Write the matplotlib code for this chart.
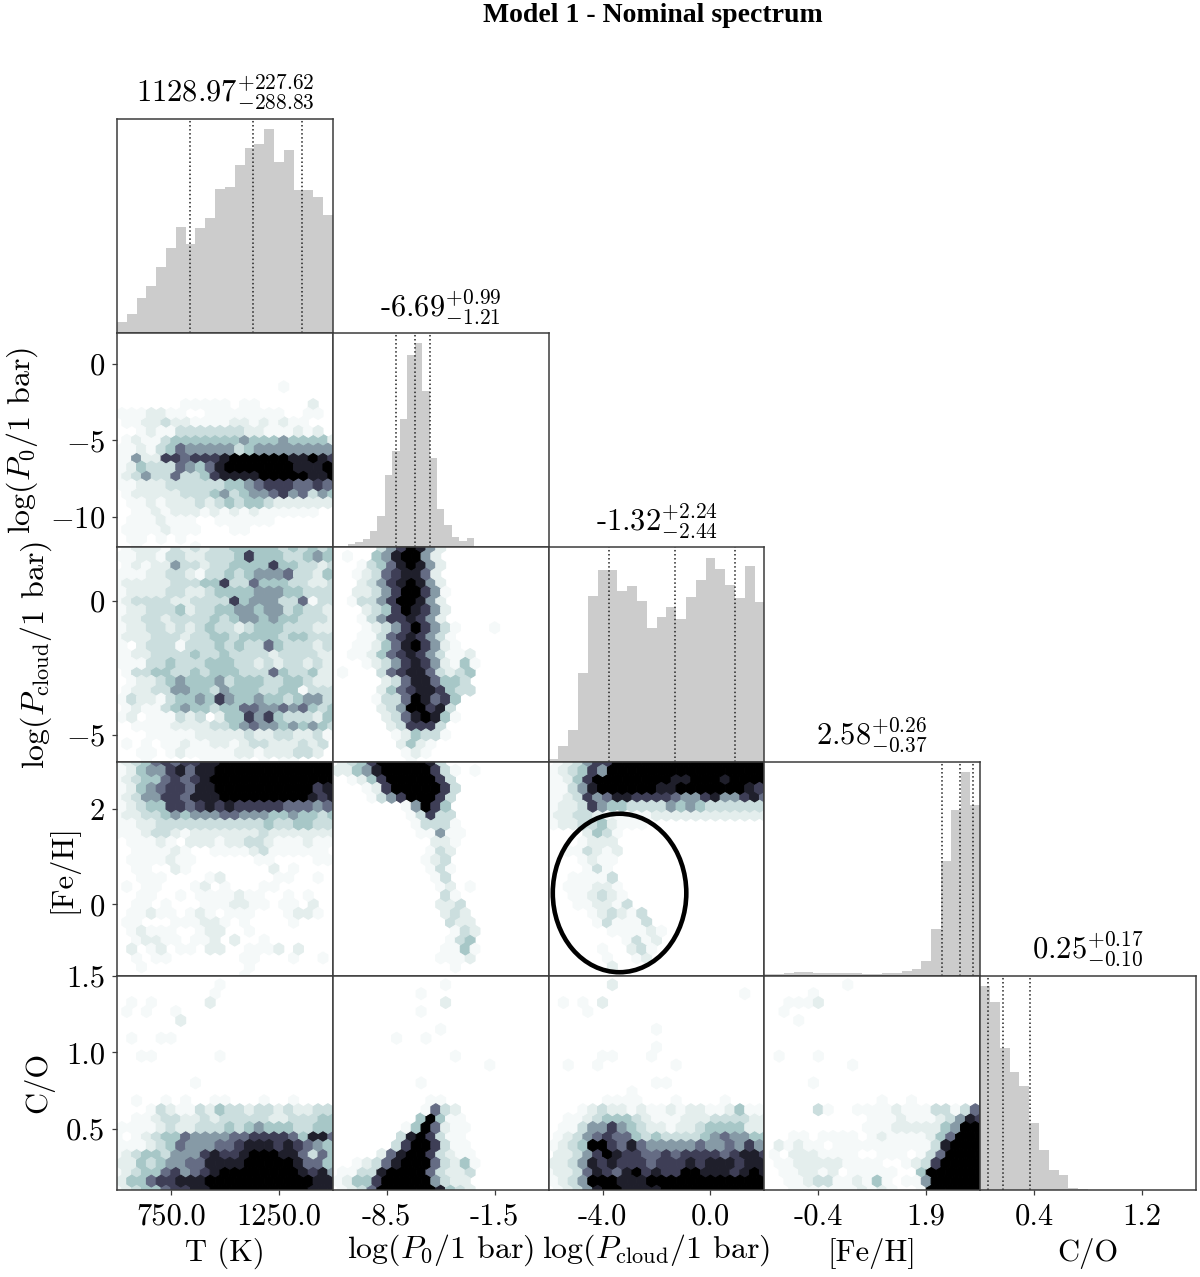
import numpy as np
import matplotlib
matplotlib.use("Agg")
import matplotlib.pyplot as plt
from matplotlib.patches import Ellipse

plt.rcParams['mathtext.fontset'] = 'cm'
plt.rcParams['font.family'] = ['cmr10', 'DejaVu Sans']
plt.rcParams['axes.unicode_minus'] = False
plt.rcParams['axes.formatter.use_mathtext'] = True

# axis ranges, one per parameter
t_range = (500, 1500)
p0_range = (-12, 2)
pcloud_range = (-6, 2)
feh_range = (-1.5, 3)
co_range = (0.1, 1.5)
ranges = [t_range, p0_range, pcloud_range, feh_range, co_range]

# histogram heights
hist_t = [33, 58, 106, 142, 197, 253, 316, 266, 315, 343, 430, 437, 500, 553, 564, 608, 510, 545, 427, 426, 405, 351]
hist_p0 = [0, 1, 10, 16, 25, 48, 94, 216, 289, 384, 576, 610, 467, 268, 114, 66, 30, 18, 27, 0, 0, 0, 0, 0, 0, 0, 0, 0, 0]
hist_pcloud = [8, 48, 95, 264, 495, 574, 574, 510, 524, 479, 399, 432, 462, 425, 493, 542, 610, 577, 528, 490, 586, 476]
hist_feh = [4, 5, 7, 12, 10, 8, 9, 9, 8, 7, 6, 6, 8, 9, 14, 20, 44, 140, 342, 492, 607, 509]
hist_co = [612, 563, 426, 355, 312, 202, 121, 59, 44, 7, 3, 1, 1, 1, 1, 1, 1, 1, 1, 1, 1, 1]
hists = [hist_t, hist_p0, hist_pcloud, hist_feh, hist_co]

# medians and errors shown above the diagonal
medians = [1128.97, -6.69, -1.32, 2.58, 0.25]
err_up = [227.62, 0.99, 2.24, 0.26, 0.17]
err_down = [288.83, 1.21, 2.44, 0.37, 0.10]

x_labels = ["T (K)", r"log($P_0$/1 bar)", r"log($P_{\mathrm{cloud}}$/1 bar)", "[Fe/H]", "C/O"]
y_labels = [None, r"log($P_0$/1 bar)", r"log($P_{\mathrm{cloud}}$/1 bar)", "[Fe/H]", "C/O"]
x_ticks = [[750, 1250], [-8.5, -1.5], [-4, 0], [-0.375, 1.875], [0.45, 1.15]]
x_ticklabels = [["750.0", "1250.0"], ["-8.5", "-1.5"], ["-4.0", "0.0"], ["-0.4", "1.9"], ["0.4", "1.2"]]
y_ticks = [None, [0, -5, -10], [0, -5], [2, 0], [1.5, 1.0, 0.5]]
y_ticklabels = [None, ["$0$", "$-5$", "$-10$"], ["$0$", "$-5$"], ["$2$", "$0$"], ["1.5", "1.0", "0.5"]]

# hexbin density levels, top row first. rows alternate the 23 cell lattice and the
# offset 22 cell lattice of a gridsize=22 hexbin. 0 = empty, 9 = black
hex_t_p0 = [
    "", "", "", "", "", "",
    "000000000000000001",
    "",
    "0000000111110110000020",
    "1112211001111111100110",
    "0112232211112212121100",
    "0012113333333221112120",
    "01211344444445444544442",
    "1121346555553455555555",
    "11522776777899999988987",
    "1243336546899999998889",
    "12353363347888899999889",
    "1122233333344567776676",
    "01222223334534556756354",
    "0112122232343443222222",
    "00112122212121211111100",
    "0111211100111111000000",
    "01111211100011000000000",
    "011010100000000000",
    "0010000010",
]
hex_t_pcloud = [
    "01222132323344444343434",
    "1122133223334744433454",
    "01212253323344447443323",
    "1112233213343455563324",
    "12222233344733644433223",
    "1222233223444455544333",
    "12333322333374555336133",
    "1223334233445545534332",
    "12233233334345545443332",
    "1223323234332344433322",
    "12223332334434444344333",
    "1023331333434336433323",
    "11223333433433332333322",
    "1113343334443323233232",
    "01334433434443336433422",
    "0122345444534443344322",
    "01223355443544433441333",
    "1322134454754454434553",
    "01211345443446655656434",
    "1201113230244757433324",
    "00111122223345655454543",
    "0001111122222322332231",
    "01010112112212332223230",
    "0011012111112212223320",
    "0001000001111101011000",
]
hex_p0_pcloud = [
    "00000357985200000000000",
    "0100458995200000000000",
    "000134689852",
    "00123678862",
    "000235789852",
    "002235799751",
    "001335799852",
    "000234798752",
    "000135778752",
    "0001235797531000100000",
    "0001136787531",
    "0011246897521",
    "001124678753112",
    "000123578752141",
    "010003678863234",
    "00000236886443",
    "000002467887433",
    "0000133698674",
    "0000023599783",
    "0000023689841",
    "000000237773",
    "000000124331",
    "00000002421",
    "0000000121",
    "000000001",
]
hex_t_feh = [
    "12346767788999999999999",
    "1245578688999999999999",
    "12344676789999999999999",
    "1245677688999999999978",
    "12355776888999999999878",
    "1234477678787777766656",
    "12233454555665554454434",
    "1122333333333334334433",
    "11123321222222232222222",
    "0111210222122332111211",
    "00111121001111231111110",
    "0111121100000011000011",
    "00110021000000002010000",
    "0011100001200000110010",
    "01011000120100011000000",
    "0011001011112110010100",
    "00110100011122110110200",
    "0112110121011100012210",
    "01100011122101000010000",
    "0121110012200100000000",
    "00122110112020010000000",
    "0201201102200111202000",
    "00101100000001100010010",
    "0010000000000100000000",
    "0000000000000100000000",
]
hex_p0_feh = [
    "0234799999830",
    "224589999973101",
    "0012479999973",
    "0001279999973",
    "0000135799973",
    "000000015974",
    "0000000013733",
    "0000000013331",
    "00000000011511",
    "0000000000221",
    "0000000000132",
    "000000000123",
    "0000000000131",
    "000000000013",
    "000000000001201",
    "0000000000031",
    "00000000000223",
    "00000000000232",
    "000000000000322",
    "000000000000132",
    "000000000000134",
    "000000000001141",
    "000000000001112",
    "0000000000001",
    "",
]
hex_pcloud_feh = [
    "01235779999999999999999",
    "1234759999999999999999",
    "11247999999998899989999",
    "1135899999988999999987",
    "11237568877776557855786",
    "1223754433335454333333",
    "12233211111222222222222",
    "1223342111000000000000",
    "00002431",
    "0001222",
    "00113212",
    "0001211",
    "0000131",
    "0011113",
    "00111221",
    "00112321",
    "000112213",
    "0000123213",
    "00000131113",
    "000000111121",
    "000000001312",
    "00000100231",
    "00000010012",
    "0000002",
    "",
]
hex_t_co = [
    "",
    "0000000000100",
    "000000000010",
    "0101000002",
    "01010010",
    "000000200",
    "",
    "01001100",
    "",
    "00110000001",
    "",
    "",
    "00000000100",
    "",
    "00100101001100010010000",
    "0001321132433233232233",
    "00112332232333332233344",
    "1111232233343454443344",
    "10123446555566777764886",
    "1112346555667888787654",
    "12344355578778999886364",
    "2243455668888999998664",
    "12344675678999999998785",
    "2446778889999999999988",
    "12344677889999999999888",
]
hex_p0_co = [
    "",
    "000000000001",
    "0000000001",
    "000000000002",
    "0000000001",
    "",
    "00000000000100",
    "0000001001",
    "",
    "00000000000010",
    "00000000000000001",
    "",
    "000000000100",
    "",
    "0000000000110",
    "0000000001632",
    "00000000049411",
    "00000001496211",
    "00000003897311",
    "00000037997311",
    "000002689973211",
    "001236899963241",
    "011338999963223",
    "12447999995322",
    "012369999998432",
]
hex_pcloud_co = [
    "",
    "0000002",
    "00000000000000000000100",
    "0101020",
    "0000100",
    "",
    "000000000001",
    "",
    "00000000000100",
    "0000011000100",
    "0010010000000100",
    "",
    "0000000000011",
    "00000000100",
    "00000011110001000010000",
    "0001232212112122112411",
    "00112344432111222333322",
    "0113557543221223444422",
    "01235676643433334565544",
    "1234997686555556556575",
    "02235798776676777767887",
    "2235878777677787888788",
    "12236876897877998887898",
    "1235999888999999999999",
    "01235899888899999999999",
]
hex_feh_co = [
    "",
    "00000000100",
    "00000100",
    "0011120",
    "0010000",
    "000100",
    "",
    "",
    "",
    "0100010",
    "0000000001",
    "",
    "000001000",
    "",
    "000000000000100100",
    "0000031001111211133136",
    "00000000000111211123587",
    "0000000000111222224599",
    "00011011110121111246999",
    "0212110111111111138999",
    "01022211110011101369999",
    "0112222211110012379999",
    "00112212011111004999999",
    "0011233112141011599999",
    "00011111112121001999999",
]
hexes = {
    (1, 0): hex_t_p0, (2, 0): hex_t_pcloud, (2, 1): hex_p0_pcloud,
    (3, 0): hex_t_feh, (3, 1): hex_p0_feh, (3, 2): hex_pcloud_feh,
    (4, 0): hex_t_co, (4, 1): hex_p0_co, (4, 2): hex_pcloud_co, (4, 3): hex_feh_co,
}
levels = [0, 0.03, 0.08, 0.15, 0.25, 0.40, 0.55, 0.72, 0.86, 1.0]

# the circled region, in log(Pcloud) and [Fe/H]
circle_center = (-3.37, 0.24)
circle_size = (4.95, 3.33)

fig, axes = plt.subplots(5, 5, figsize=(12, 12.77), dpi=100)
fig.subplots_adjust(left=117/1200, right=1196/1200, top=1-119/1277, bottom=1-1190/1277, wspace=0, hspace=0)

edge = '#3c3c3c'
fs = 22
fs_log = 23


def draw_hex(ax, rows, xr, yr):
    sx = (xr[1]-xr[0])/22
    sy = (yr[1]-yr[0])/12
    xs, ys, cs = [], [], []
    for r, row in enumerate(rows):
        for i, ch in enumerate(row):
            if ch != "0":
                xs.append(xr[0] + (i + (r % 2)*0.5)*sx)
                ys.append(yr[1] - r/2*sy)
                cs.append(levels[int(ch)])
    ax.hexbin(xs, ys, C=cs, gridsize=22, extent=(xr[0], xr[1], yr[0], yr[1]), reduce_C_function=np.max,
              cmap='bone_r', vmin=0, vmax=1, linewidths=0.8, edgecolors='face')


for row in range(5):
    for col in range(5):
        ax = axes[row, col]
        if col > row:
            ax.axis('off')
            continue
        for s in ax.spines.values():
            s.set_color(edge)
            s.set_linewidth(1.1)
            s.set_zorder(6)
        ax.set_xlim(ranges[col])
        if row == col:
            h = hists[col]
            e = np.linspace(ranges[col][0], ranges[col][1], len(h)+1)
            ax.bar(e[:-1], h, width=e[1]-e[0], align='edge', color='#cccccc', linewidth=0)
            ax.set_ylim(0, max(h)*1.05)
            ax.set_yticks([])
            q = [medians[col]-err_down[col], medians[col], medians[col]+err_up[col]]
            for v in q:
                ax.axvline(v, color='#222222', ls=':', lw=1.1)
            ax.set_title("%.2f$^{+%.2f}_{-%.2f}$" % (medians[col], err_up[col], err_down[col]), fontsize=fs, pad=12)
        else:
            ax.set_ylim(ranges[row])
            draw_hex(ax, hexes[(row, col)], ranges[col], ranges[row])
            if col == 0:
                ax.set_yticks(y_ticks[row])
                ax.set_yticklabels(y_ticklabels[row], fontsize=fs)
            else:
                ax.set_yticks([])
        if row == 4:
            ax.set_xticks(x_ticks[col])
            ax.set_xticklabels(x_ticklabels[col], fontsize=fs)
            ax.set_xlabel(x_labels[col], fontsize=fs_log if col in (1, 2) else fs)
            ax.xaxis.set_label_coords(0.5, -0.198 if col in (1, 2) else -0.222)
        else:
            ax.set_xticks([])
        ax.tick_params(axis='x', length=3.5, width=0.9, color=edge, pad=6)
        ax.tick_params(axis='y', length=3.5, width=0.9, color=edge, pad=5)

label_x = {1: -0.355, 2: -0.29, 3: -0.18, 4: -0.29}
for row in label_x:
    axes[row, 0].set_ylabel(y_labels[row], fontsize=fs_log if row in (1, 2) else fs)
    axes[row, 0].yaxis.set_label_coords(label_x[row], 0.5)

axes[3, 2].add_patch(Ellipse(circle_center, circle_size[0], circle_size[1], fill=False, ec='black', lw=3.3,
                             clip_on=False, zorder=7))

fig.text(653/1200, 1-16/1277, "Model 1 - Nominal spectrum", ha='center', va='center', fontsize=20,
         fontweight='bold', family='Liberation Serif')

fig.savefig("out.png", dpi=100)
